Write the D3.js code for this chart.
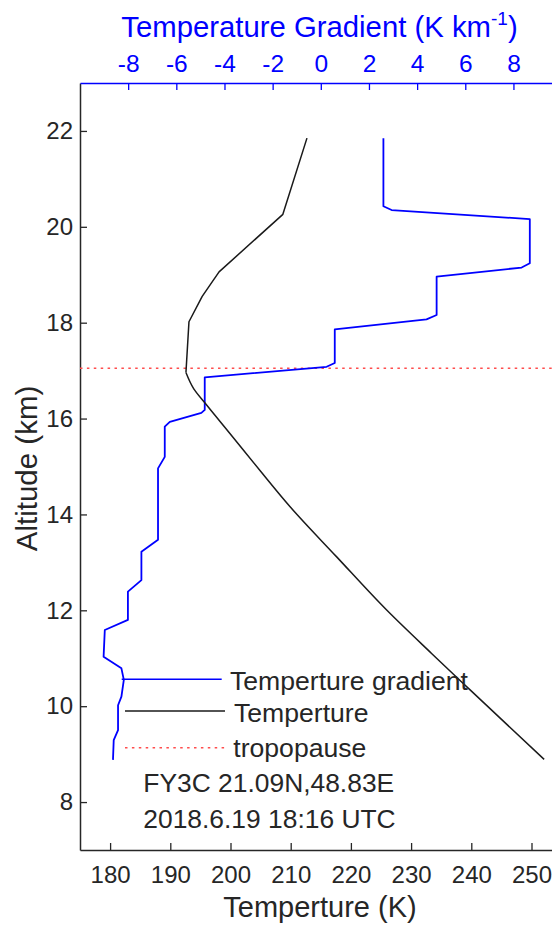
<!DOCTYPE html>
<html>
<head>
<meta charset="utf-8">
<script src="https://cdn.jsdelivr.net/npm/d3@7"></script>
<style>
  body { margin: 0; background: #fff; }
  svg { display: block; }
  text { font-family: "Liberation Sans", Arial, Helvetica, sans-serif; }
</style>
</head>
<body>
<svg id="chart" width="552" height="927"></svg>
<script>
// Temperature profile (altitude in km, temperature in K)
const altitudeT = [21.85, 20.26, 19.06, 18.55, 18.02, 16.96, 16.62, 16.32, 15.69, 14.9, 14.16, 13.12, 12.01, 11.1, 10.34, 8.89];
const temperature = [212.7, 208.7, 198.1, 195.3, 193.1, 192.6, 193.9, 195.8, 199.9, 205.0, 209.9, 217.6, 225.9, 233.4, 239.8, 252.1];
const coldPointIndex = 5; // lowest temperature in the profile

// Temperature gradient profile (altitude in km, gradient in K/km)
const altitudeG = [21.85, 20.43, 20.35, 20.16, 19.24, 19.15, 18.96, 18.16, 18.07, 17.86, 17.16, 17.08,
  16.86, 16.18, 16.12, 15.93, 15.83, 15.2, 14.96, 13.47, 13.22, 12.63, 12.39, 11.8, 11.59, 11.03,
  10.79, 10.55, 10.2, 10.02, 9.5, 9.29, 8.88];
const gradient = [2.6, 2.6, 2.94, 8.68, 8.68, 8.34, 4.81, 4.81, 4.39, 0.58, 0.58, 0.24,
  -4.82, -4.82, -4.96, -6.27, -6.48, -6.48, -6.76, -6.76, -7.45, -7.45, -8.01, -8.01, -8.97, -9.02,
  -8.28, -8.18, -8.28, -8.42, -8.42, -8.6, -8.63];

const tropopauseAlt = 17.05;

const tempTicks = [180, 190, 200, 210, 220, 230, 240, 250];
const gradTicks = [-8, -6, -4, -2, 0, 2, 4, 6, 8];
const altTicks = [8, 10, 12, 14, 16, 18, 20, 22];

const legendLabels = ["Temperture gradient", "Temperture", "tropopause"];
const noteLines = ["FY3C 21.09N,48.83E", "2018.6.19 18:16 UTC"];

const svg = d3.select("#chart");
const axisColor = "#262626";
const blue = "#0000ff";
const red = "#ff4d4d";

const x = d3.scaleLinear().domain([175, 255]).range([80, 561.6]);
const xg = d3.scaleLinear().domain([-10, 10]).range([80, 561.6]);
const y = d3.scaleLinear().domain([7, 23]).range([850, 83]);

// Bottom temperature axis
const gx = svg.append("g")
  .attr("transform", `translate(0,${y.range()[0]})`)
  .call(d3.axisBottom(x).tickValues(tempTicks).tickFormat(d3.format("d"))
    .tickSizeInner(-7).tickSizeOuter(0).tickPadding(16));
gx.select(".domain").attr("stroke", axisColor).attr("stroke-width", 1.5);
gx.selectAll(".tick line").attr("stroke", axisColor).attr("stroke-width", 1.3);
gx.selectAll(".tick text").attr("fill", axisColor).attr("font-size", 24)
  .style("font-family", "'Liberation Sans', Arial, sans-serif");

// Left altitude axis
const gy = svg.append("g")
  .attr("transform", `translate(${x.range()[0]},0)`)
  .call(d3.axisLeft(y).tickValues(altTicks).tickFormat(d3.format("d"))
    .tickSizeInner(-7).tickSizeOuter(0).tickPadding(7));
gy.select(".domain").attr("stroke", axisColor).attr("stroke-width", 1.5);
gy.selectAll(".tick line").attr("stroke", axisColor).attr("stroke-width", 1.3);
gy.selectAll(".tick text").attr("fill", axisColor).attr("font-size", 24)
  .style("font-family", "'Liberation Sans', Arial, sans-serif");

// Top gradient axis
const gt = svg.append("g")
  .attr("transform", `translate(0,${y.range()[1]})`)
  .call(d3.axisTop(xg).tickValues(gradTicks).tickFormat(d3.format("d"))
    .tickSizeInner(-7).tickSizeOuter(0).tickPadding(11));
gt.select(".domain").attr("stroke", blue).attr("stroke-width", 1.5);
gt.selectAll(".tick line").attr("stroke", blue).attr("stroke-width", 1.3);
gt.selectAll(".tick text").attr("fill", blue).attr("font-size", 24.5)
  .style("font-family", "'Liberation Sans', Arial, sans-serif")
  .text(d => d < 0 ? "-" + Math.abs(d) : String(d));

// Axis titles
svg.append("text")
  .attr("x", 320).attr("y", 917)
  .attr("text-anchor", "middle").attr("font-size", 29).attr("fill", axisColor)
  .text("Temperture (K)");

svg.append("text")
  .attr("transform", `translate(36.5,${(y.range()[0] + y.range()[1]) / 2 + 2}) rotate(-90)`)
  .attr("text-anchor", "middle").attr("font-size", 29.5).attr("fill", axisColor)
  .text("Altitude (km)");

const topTitle = svg.append("text")
  .attr("x", 319.5).attr("y", 37)
  .attr("text-anchor", "middle").attr("font-size", 29.3).attr("fill", blue);
topTitle.append("tspan").text("Temperature Gradient (K km");
topTitle.append("tspan").attr("dy", -12).attr("font-size", 19).text("-1");
topTitle.append("tspan").attr("dy", 12).text(")");

// Tropopause
svg.append("line")
  .attr("x1", x.range()[0]).attr("x2", 552)
  .attr("y1", y(tropopauseAlt)).attr("y2", y(tropopauseAlt))
  .attr("stroke", red).attr("stroke-width", 1.5)
  .attr("stroke-dasharray", "2.5,4.4");

// Profiles
const gradLine = d3.line().x(d => xg(d[1])).y(d => y(d[0]));
const tempLine = d3.line().x(d => x(d[1])).y(d => y(d[0]));
const tempLineSmooth = d3.line().curve(d3.curveMonotoneY).x(d => x(d[1])).y(d => y(d[0]));

svg.append("path")
  .datum(altitudeG.map((a, i) => [a, gradient[i]]))
  .attr("d", gradLine)
  .attr("fill", "none").attr("stroke", blue).attr("stroke-width", 1.8)
  .attr("stroke-linejoin", "round");

const tempPoints = altitudeT.map((a, i) => [a, temperature[i]]);
// Stratospheric part (above the cold point) and tropospheric part (below it)
svg.append("path")
  .datum(tempPoints.slice(0, coldPointIndex + 1))
  .attr("d", tempLine)
  .attr("fill", "none").attr("stroke", "#1a1a1a").attr("stroke-width", 1.5)
  .attr("stroke-linejoin", "round");
svg.append("path")
  .datum(tempPoints.slice(coldPointIndex))
  .attr("d", tempLineSmooth)
  .attr("fill", "none").attr("stroke", "#1a1a1a").attr("stroke-width", 1.5)
  .attr("stroke-linejoin", "round");

// Legend
const legendItems = [
  { label: legendLabels[0], color: blue, dash: null, ly: 679.3, x1: 121.7, x2: 221.7, tx: 230, ty: 689.5 },
  { label: legendLabels[1], color: "#1a1a1a", dash: null, ly: 711, x1: 125, x2: 225, tx: 234, ty: 721.7 },
  { label: legendLabels[2], color: red, dash: "2.5,4.4", ly: 747.7, x1: 125, x2: 225, tx: 233.3, ty: 757.3 }
];
const lg = svg.append("g");
legendItems.forEach(d => {
  lg.append("line")
    .attr("x1", d.x1).attr("x2", d.x2).attr("y1", d.ly).attr("y2", d.ly)
    .attr("stroke", d.color).attr("stroke-width", 1.5)
    .attr("stroke-dasharray", d.dash);
  lg.append("text")
    .attr("x", d.tx).attr("y", d.ty)
    .attr("font-size", 26.6).attr("fill", axisColor)
    .text(d.label);
});

// Satellite / time annotation
noteLines.forEach((t, i) => {
  svg.append("text")
    .attr("x", 143.3).attr("y", 791.7 + i * 36.6)
    .attr("font-size", 26.4).attr("fill", axisColor)
    .text(t);
});
</script>
</body>
</html>
